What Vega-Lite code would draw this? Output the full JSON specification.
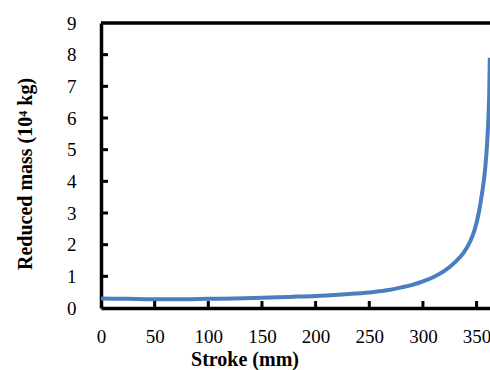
{
  "$schema": "https://vega.github.io/schema/vega-lite/v6.json",
  "width": 389,
  "height": 285,
  "autosize": "none",
  "padding": {"left": 101, "top": 23, "right": 0, "bottom": 62},
  "background": "white",
  "config": {
    "view": {"stroke": null},
    "font": "Liberation Serif"
  },
  "resolve": {"axis": {"x": "independent", "y": "independent"}},
  "datasets": {
    "curve": [
      {"stroke": 0, "mass": 0.30},
      {"stroke": 25, "mass": 0.29},
      {"stroke": 50, "mass": 0.28},
      {"stroke": 75, "mass": 0.28},
      {"stroke": 100, "mass": 0.29},
      {"stroke": 125, "mass": 0.30},
      {"stroke": 150, "mass": 0.32},
      {"stroke": 175, "mass": 0.35},
      {"stroke": 200, "mass": 0.38},
      {"stroke": 225, "mass": 0.43},
      {"stroke": 250, "mass": 0.49},
      {"stroke": 265, "mass": 0.55},
      {"stroke": 280, "mass": 0.65},
      {"stroke": 290, "mass": 0.73},
      {"stroke": 300, "mass": 0.84},
      {"stroke": 310, "mass": 0.98},
      {"stroke": 320, "mass": 1.17},
      {"stroke": 330, "mass": 1.45},
      {"stroke": 338, "mass": 1.75},
      {"stroke": 344, "mass": 2.1},
      {"stroke": 348, "mass": 2.45},
      {"stroke": 352, "mass": 3.0},
      {"stroke": 355, "mass": 3.6},
      {"stroke": 358, "mass": 4.4},
      {"stroke": 360, "mass": 5.3},
      {"stroke": 361, "mass": 6.0},
      {"stroke": 361.8, "mass": 6.8},
      {"stroke": 362.3, "mass": 7.9}
    ],
    "xticks": [{"v": 50}, {"v": 100}, {"v": 150}, {"v": 200}, {"v": 250}, {"v": 300}, {"v": 350}],
    "yticks": [{"v": 1}, {"v": 2}, {"v": 3}, {"v": 4}, {"v": 5}, {"v": 6}, {"v": 7}, {"v": 8}]
  },
  "layer": [
    {
      "data": {"name": "curve"},
      "mark": {"type": "line", "color": "#4a7ebf", "strokeWidth": 4, "interpolate": "monotone", "clip": true},
      "encoding": {
        "x": {
          "field": "stroke", "type": "quantitative",
          "scale": {"domain": [0, 362.5], "nice": false},
          "axis": {
            "values": [0, 50, 100, 150, 200, 250, 300, 350],
            "title": "Stroke (mm)",
            "titleFontSize": 20, "titleFontWeight": "bold", "titleColor": "black",
            "titleX": 143.5, "titlePadding": 3,
            "labelFontSize": 19, "labelColor": "black", "labelPadding": 19,
            "labelOverlap": false, "labelBound": false,
            "domainColor": "black", "domainWidth": 3.5,
            "ticks": false, "tickSize": 0,
            "grid": false, "labelFlush": false
          }
        },
        "y": {
          "field": "mass", "type": "quantitative",
          "scale": {"domain": [0, 9], "nice": false},
          "axis": {
            "values": [0, 1, 2, 3, 4, 5, 6, 7, 8, 9],
            "title": "Reduced mass (10⁴ kg)",
            "titleFontSize": 20, "titleFontWeight": "bold", "titleColor": "black",
            "titleY": 150.5, "titlePadding": 31,
            "labelFontSize": 19, "labelColor": "black", "labelPadding": 25,
            "labelOverlap": false, "labelBound": false,
            "domainColor": "black", "domainWidth": 3.5,
            "ticks": false, "tickSize": 0,
            "grid": false
          }
        }
      }
    },
    {
      "data": {"name": "xticks"},
      "mark": {"type": "rule", "color": "black", "strokeWidth": 3},
      "encoding": {
        "x": {"field": "v", "type": "quantitative", "axis": null},
        "y": {"datum": 0, "axis": null},
        "y2": {"datum": 0.22}
      }
    },
    {
      "data": {"name": "yticks"},
      "mark": {"type": "rule", "color": "black", "strokeWidth": 3},
      "encoding": {
        "y": {"field": "v", "type": "quantitative", "axis": null},
        "x": {"datum": 0, "axis": null},
        "x2": {"datum": 6.5}
      }
    },
    {
      "data": {"values": [{"y": 9}]},
      "mark": {"type": "rule", "color": "black", "strokeWidth": 3.5},
      "encoding": {
        "y": {"field": "y", "type": "quantitative", "axis": null}
      }
    }
  ]
}
